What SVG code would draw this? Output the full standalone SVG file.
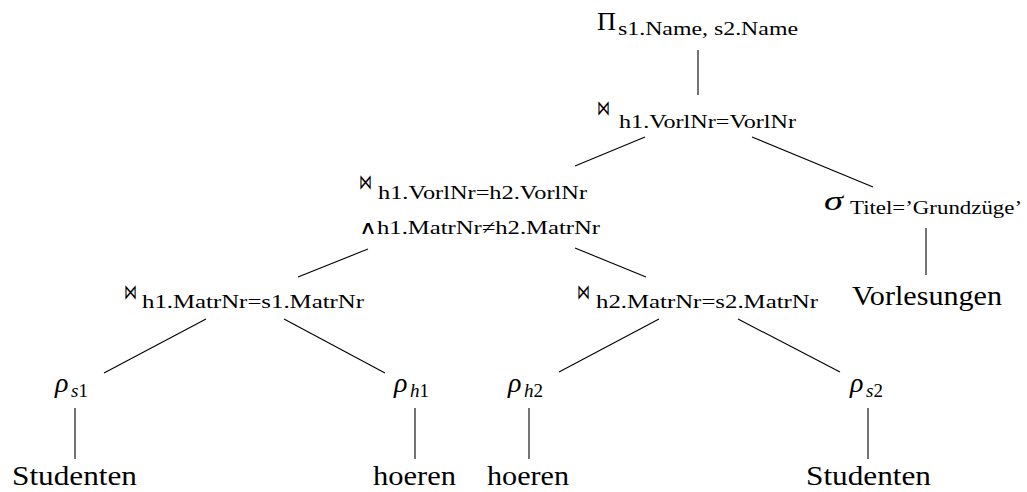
<svg xmlns="http://www.w3.org/2000/svg" width="1027" height="492" viewBox="0 0 1027 492">
<style>
text{font-family:"Liberation Serif","DejaVu Serif",serif;fill:#000}
.m{font-family:"Liberation Serif",serif;font-size:28px}
.g{font-size:28px;font-style:italic}
.s{font-size:19px}
.si{font-size:19px;font-style:italic}
.bt{font-family:"DejaVu Sans","DejaVu Serif",sans-serif;font-size:21px;fill:#000}
#edges line{stroke:#000;stroke-width:1.1}
</style>
<rect width="1027" height="492" fill="#fff"/>
<g id="edges">
<line x1="698" y1="50" x2="698" y2="95"/>
<line x1="645" y1="137" x2="575" y2="166"/>
<line x1="752" y1="137" x2="873" y2="187"/>
<line x1="368" y1="249" x2="298" y2="277"/>
<line x1="575" y1="248" x2="646" y2="277"/>
<line x1="926" y1="228" x2="926" y2="275"/>
<line x1="206" y1="319" x2="104" y2="373"/>
<line x1="284" y1="319" x2="385" y2="373"/>
<line x1="659" y1="319" x2="559" y2="372"/>
<line x1="738" y1="319" x2="840" y2="372"/>
<line x1="75" y1="408" x2="75" y2="459"/>
<line x1="415" y1="408" x2="415" y2="459"/>
<line x1="529" y1="408" x2="529" y2="459"/>
<line x1="868" y1="408" x2="868" y2="459"/>
</g>
<g id="proj">
<text x="597" y="30" font-size="25" textLength="19" lengthAdjust="spacingAndGlyphs">Π</text>
<text class="s" x="618" y="35" textLength="180" lengthAdjust="spacingAndGlyphs">s1.Name, s2.Name</text>
</g>
<g id="join1">
<text class="bt" x="597" y="115" textLength="13" lengthAdjust="spacingAndGlyphs">⋈</text>
<text class="s" x="619" y="128" textLength="177" lengthAdjust="spacingAndGlyphs">h1.VorlNr=VorlNr</text>
</g>
<g id="join2">
<text class="bt" x="359" y="189" textLength="13" lengthAdjust="spacingAndGlyphs">⋈</text>
<text class="s" x="378" y="199" textLength="209" lengthAdjust="spacingAndGlyphs">h1.VorlNr=h2.VorlNr</text>
<text class="s" x="359" y="234" textLength="241" lengthAdjust="spacingAndGlyphs">∧h1.MatrNr≠h2.MatrNr</text>
</g>
<g id="select">
<text class="g" x="824" y="210" textLength="19" lengthAdjust="spacingAndGlyphs">σ</text>
<text class="s" x="850" y="214" textLength="172" lengthAdjust="spacingAndGlyphs">Titel=’Grundzüge’</text>
</g>
<g id="vorlesungen">
<text class="m" x="852" y="305" textLength="150" lengthAdjust="spacingAndGlyphs">Vorlesungen</text>
</g>
<g id="join3">
<text class="bt" x="124" y="299" textLength="13" lengthAdjust="spacingAndGlyphs">⋈</text>
<text class="s" x="142" y="308" textLength="222" lengthAdjust="spacingAndGlyphs">h1.MatrNr=s1.MatrNr</text>
</g>
<g id="join4">
<text class="bt" x="577" y="299" textLength="13" lengthAdjust="spacingAndGlyphs">⋈</text>
<text class="s" x="596" y="308" textLength="222" lengthAdjust="spacingAndGlyphs">h2.MatrNr=s2.MatrNr</text>
</g>
<g id="rho-s1">
<text class="g" x="55" y="392">ρ</text>
<text class="s" x="71" y="397"><tspan class="si">s</tspan>1</text>
</g>
<g id="rho-h1">
<text class="g" x="394" y="392">ρ</text>
<text class="s" x="410" y="397"><tspan class="si">h</tspan>1</text>
</g>
<g id="rho-h2">
<text class="g" x="508" y="392">ρ</text>
<text class="s" x="524" y="397"><tspan class="si">h</tspan>2</text>
</g>
<g id="rho-s2">
<text class="g" x="850" y="392">ρ</text>
<text class="s" x="866" y="397"><tspan class="si">s</tspan>2</text>
</g>
<g id="studenten1">
<text class="m" x="12" y="485" textLength="125" lengthAdjust="spacingAndGlyphs">Studenten</text>
</g>
<g id="hoeren1">
<text class="m" x="373" y="485" textLength="83" lengthAdjust="spacingAndGlyphs">hoeren</text>
</g>
<g id="hoeren2">
<text class="m" x="487" y="485" textLength="82" lengthAdjust="spacingAndGlyphs">hoeren</text>
</g>
<g id="studenten2">
<text class="m" x="806" y="485" textLength="125" lengthAdjust="spacingAndGlyphs">Studenten</text>
</g>
</svg>
